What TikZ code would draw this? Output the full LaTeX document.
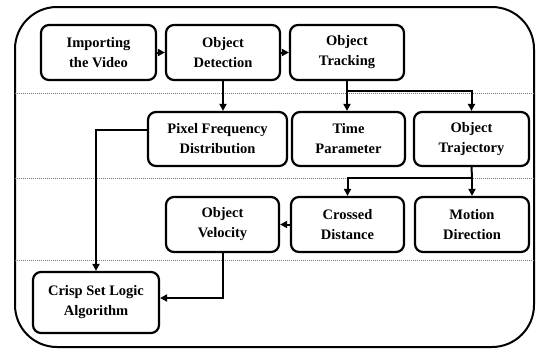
\documentclass[tikz,border=0pt]{standalone}
\usepackage{fontspec}
\setmainfont{Liberation Serif}
\usetikzlibrary{arrows.meta,calc}
\begin{document}
\begin{tikzpicture}[x=1pt,y=-1pt,
  stepbox/.style={draw,line width=2.2pt,rounded corners=8pt,align=center,inner sep=0pt,
    font=\fontsize{14.5}{20}\selectfont\bfseries},
  conn/.style={line width=2pt,-{Triangle[length=7pt,width=7pt]}},
  plain/.style={line width=2pt},
  sep/.style={line width=1pt,black!55,dash pattern=on 1pt off 1pt}]
\useasboundingbox (0,0) rectangle (536,349);
\draw[line width=2pt,rounded corners=42pt] (15,7) rectangle (534,347);
\draw[sep] (15,93) -- (534,93);
\draw[sep] (15,178) -- (534,178);
\draw[sep] (15,260) -- (534,260);
\node[stepbox,minimum width=115pt,minimum height=55pt] (imp) at (98.5,52.5) {Importing\\the Video};
\node[stepbox,minimum width=114pt,minimum height=55pt] (det) at (223,52.5) {Object\\Detection};
\node[stepbox,minimum width=114pt,minimum height=55pt] (trk) at (347,52.5) {Object\\Tracking};
\node[stepbox,minimum width=139pt,minimum height=54pt] (pix) at (217.5,139) {Pixel Frequency\\Distribution};
\node[stepbox,minimum width=113pt,minimum height=54pt] (time) at (348.5,139) {Time\\Parameter};
\node[stepbox,minimum width=115pt,minimum height=54pt] (traj) at (471.5,139) {Object\\Trajectory};
\node[stepbox,minimum width=113pt,minimum height=55pt] (vel) at (222.5,224.5) {Object\\Velocity};
\node[stepbox,minimum width=113pt,minimum height=55pt] (cross) at (347.5,224.5) {Crossed\\Distance};
\node[stepbox,minimum width=114pt,minimum height=55pt] (mot) at (472,224.5) {Motion\\Direction};
\node[stepbox,minimum width=126pt,minimum height=61pt] (crisp) at (96,302.5) {Crisp Set Logic\\Algorithm};
\coordinate (tj) at (347,91);
\coordinate (rj) at (472,178);
\draw[conn] (imp.east) -- (det.west);
\draw[conn] (det.east) -- (trk.west);
\draw[conn] (det.south) -- (det.south |- pix.north);
\draw[plain] (trk.south) -- (tj);
\draw[conn] (tj) -- (tj |- time.north);
\draw[conn] (tj) -| (traj.north);
\draw[plain] (traj.south) -- (rj);
\draw[conn] (rj) -- (rj |- mot.north);
\draw[conn] (rj) -| (cross.north);
\draw[conn] (cross.west) -- (vel.east);
\draw[conn] ([yshift=9pt]pix.west) -| (crisp.north);
\draw[conn] (vel.south) |- ([yshift=4.5pt]crisp.east);
\end{tikzpicture}
\end{document}
